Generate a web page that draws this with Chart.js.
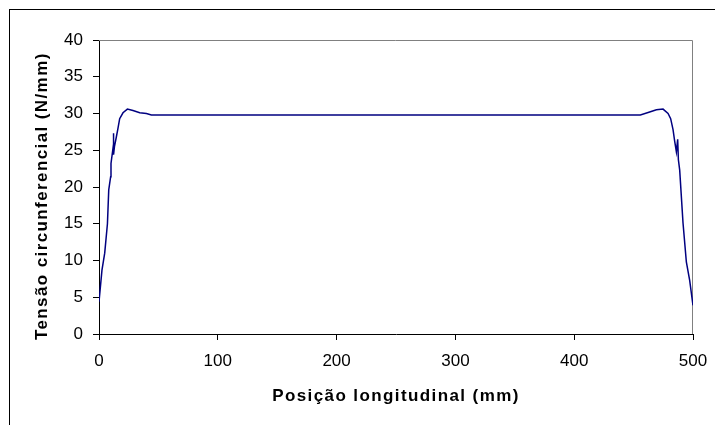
<!DOCTYPE html>
<html lang="pt">

<head>
    <meta charset="UTF-8">
    <title>Tensão circunferencial</title>
    <script src="https://cdn.jsdelivr.net/npm/chart.js"></script>
    <style>
        body {
            margin: 0;
            background: #fff;
        }

        .frame {
            position: absolute;
            left: 9px;
            top: 9px;
            right: 0;
            bottom: 0;
            border-left: 1px solid #000;
            border-top: 1px solid #000;
        }

        .wrap {
            position: absolute;
            left: 0;
            top: 0;
            width: 715px;
            height: 425px;
        }
    </style>
</head>

<script>
    // posição (mm) e tensão (N/mm)
    const posicao = [0, 2.5, 4.8, 7.1, 8.2, 9.8, 10.1, 11.8, 12.1, 12.4, 13, 14.6, 16, 17.4, 20.2, 23.9, 28.6, 34.3, 39.9, 44.1,
        455.7, 463.5, 469.2, 474.8, 479, 481.2, 483.2, 484.6, 486, 487.1, 487.7, 488.8, 491.6, 494.4, 497.2, 500];
    const tensao = [4.4, 8.7, 11, 15, 19.6, 21.4, 23.2, 25.3, 27.3, 24.4, 25.5, 26.8, 28, 29.3, 30.1, 30.6, 30.4, 30.1, 30.0, 29.8,
        29.8, 30.2, 30.5, 30.6, 30.0, 29.3, 27.8, 26.2, 24.8, 26.5, 23.7, 22.3, 15.1, 9.8, 7.3, 3.9];
    const xTicks = [0, 100, 200, 300, 400, 500];
    const yTicks = [0, 5, 10, 15, 20, 25, 30, 35, 40];
</script>

<body>
    <div class="frame"></div>
    <div class="wrap">
        <canvas id="chart"></canvas>
    </div>

    <script>
        const points = posicao.map((x, i) => ({ x: x, y: tensao[i] }));
        const font = 'Liberation Sans, Arial';

        // titles get a bit of letter spacing, like the original
        const spacedTitle = (s) => {
            if (s._spaced) return;
            const orig = s.drawTitle;
            s.drawTitle = function () {
                this.ctx.save();
                this.ctx.letterSpacing = '1.4px';
                orig.call(this);
                this.ctx.restore();
            };
            s._spaced = true;
        };

        // gray plot area border on top and right
        const plotBorder = {
            id: 'plotBorder',
            beforeDatasetsDraw(chart) {
                const { ctx, chartArea: a } = chart;
                ctx.save();
                ctx.strokeStyle = '#808080';
                ctx.lineWidth = 1;
                ctx.beginPath();
                ctx.moveTo(a.left, a.top + 0.5);
                ctx.lineTo(a.right - 0.5, a.top + 0.5);
                ctx.lineTo(a.right - 0.5, a.bottom);
                ctx.stroke();
                ctx.restore();
            }
        };

        new Chart(document.getElementById('chart'), {
            type: 'line',
            data: {
                datasets: [{
                    data: points,
                    borderColor: '#000080',
                    borderWidth: 1.5,
                    pointRadius: 0,
                    tension: 0,
                    fill: false
                }]
            },
            options: {
                responsive: true,
                maintainAspectRatio: false,
                animation: false,
                layout: {
                    padding: { top: 40, right: 22, left: 0, bottom: 0 }
                },
                scales: {
                    x: {
                        type: 'linear',
                        min: 0,
                        max: 500,
                        afterFit: (s) => {
                            s.height = 91;
                            s.paddingLeft = 0;
                            s.paddingRight = 0;
                            spacedTitle(s);
                        },
                        afterBuildTicks: (s) => { s.ticks = xTicks.map(v => ({ value: v })); },
                        grid: { drawOnChartArea: false, drawTicks: true, tickLength: 6, color: '#000' },
                        border: { color: '#000', width: 1 },
                        ticks: {
                            color: '#000',
                            padding: 11,
                            maxRotation: 0,
                            font: { family: font, size: 17 }
                        },
                        title: {
                            display: true,
                            text: 'Posição longitudinal (mm)',
                            color: '#000',
                            padding: { top: 18, bottom: 18 },
                            font: { family: font, size: 17, weight: 'bold' }
                        }
                    },
                    y: {
                        min: 0,
                        max: 40,
                        afterFit: (s) => {
                            s.width = 99;
                            s.paddingTop = 0;
                            s.paddingBottom = 0;
                            spacedTitle(s);
                        },
                        afterBuildTicks: (s) => { s.ticks = yTicks.map(v => ({ value: v })); },
                        grid: { drawOnChartArea: false, drawTicks: true, tickLength: 6, color: '#000' },
                        border: { color: '#000', width: 1 },
                        ticks: {
                            color: '#000',
                            padding: 10,
                            font: { family: font, size: 17 }
                        },
                        title: {
                            display: true,
                            text: 'Tensão circunferencial (N/mm)\u00a0\u00a0\u00a0',
                            color: '#000',
                            padding: { top: 32, bottom: 32 },
                            font: { family: font, size: 17, weight: 'bold' }
                        }
                    }
                },
                plugins: {
                    legend: { display: false },
                    tooltip: { enabled: false }
                }
            },
            plugins: [plotBorder]
        });
    </script>

</body>

</html>
